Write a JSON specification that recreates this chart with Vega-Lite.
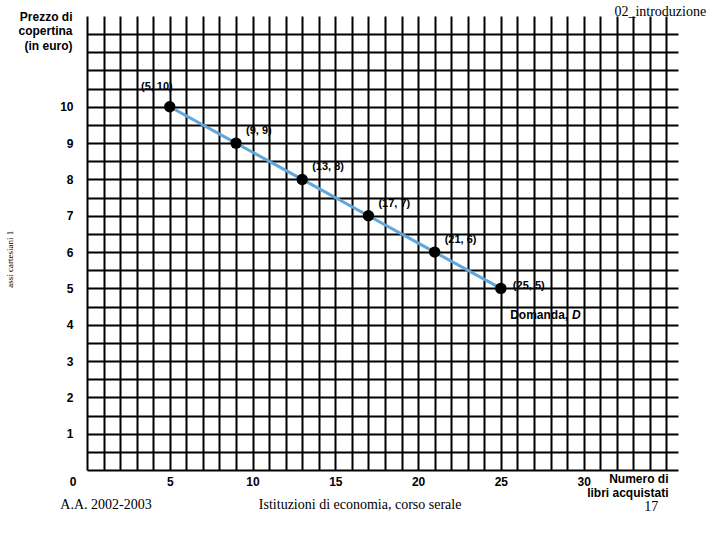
{
  "$schema": "https://vega.github.io/schema/vega-lite/v6.json",
  "width": 591,
  "height": 454,
  "autosize": "none",
  "padding": {"left": 87, "top": 16, "right": 42, "bottom": 70},
  "background": "white",
  "config": {"view": {"stroke": null}},
  "datasets": {
    "punti": [
      {"libri": 5, "prezzo": 10, "label": "(5, 10)", "pos": "first"},
      {"libri": 9, "prezzo": 9, "label": "(9, 9)", "pos": "mid"},
      {"libri": 13, "prezzo": 8, "label": "(13, 8)", "pos": "mid"},
      {"libri": 17, "prezzo": 7, "label": "(17, 7)", "pos": "mid"},
      {"libri": 21, "prezzo": 6, "label": "(21, 6)", "pos": "mid"},
      {"libri": 25, "prezzo": 5, "label": "(25, 5)", "pos": "last"}
    ],
    "note": [
      {"nome": "domanda", "t": "Domanda,"},
      {"nome": "D", "t": "D"},
      {"nome": "zero", "t": "0"},
      {"nome": "aa", "t": "A.A. 2002-2003"},
      {"nome": "ist", "t": "Istituzioni di economia, corso serale"},
      {"nome": "pag", "t": "17"},
      {"nome": "intro", "t": "02_introduzione"},
      {"nome": "assi", "t": "assi cartesiani 1"}
    ]
  },
  "resolve": {"axis": {"x": "independent", "y": "independent"}},
  "layer": [
    {
      "data": {"name": "punti"},
      "encoding": {
        "x": {
          "field": "libri", "type": "quantitative",
          "scale": {"domain": [0, 35.7], "nice": false, "zero": false},
          "axis": {
            "values": [0,1,2,3,4,5,6,7,8,9,10,11,12,13,14,15,16,17,18,19,20,21,22,23,24,25,26,27,28,29,30,31,32,33,34,35],
            "labelExpr": "datum.value > 0 && datum.value <= 30 && datum.value % 5 == 0 ? format(datum.value, 'd') : ''",
            "grid": true, "gridColor": "black", "gridWidth": 2, "gridOpacity": 1,
            "domain": false, "ticks": false,
            "labelFont": "Liberation Sans", "labelFontWeight": "bold", "labelFontSize": 12, "labelColor": "black",
            "labelPadding": 6, "labelFlush": false, "labelOverlap": false,
            "title": ["Numero di", "libri acquistati"],
            "titleFont": "Liberation Sans", "titleFontWeight": "bold", "titleFontSize": 12, "titleColor": "black",
            "titleAlign": "right", "titleBaseline": "top", "titleAnchor": "start", "titleX": 581, "titleY": 3, "titleLineHeight": 14
          }
        },
        "y": {
          "field": "prezzo", "type": "quantitative",
          "scale": {"domain": [0, 12.5], "nice": false, "zero": false},
          "axis": {
            "values": [0,0.5,1,1.5,2,2.5,3,3.5,4,4.5,5,5.5,6,6.5,7,7.5,8,8.5,9,9.5,10,10.5,11,11.5,12],
            "labelExpr": "datum.value >= 1 && datum.value <= 10 && datum.value % 1 == 0 ? format(datum.value, 'd') : ''",
            "grid": true, "gridColor": "black", "gridWidth": 2, "gridOpacity": 1,
            "domain": false, "ticks": false,
            "labelFont": "Liberation Sans", "labelFontWeight": "bold", "labelFontSize": 12, "labelColor": "black",
            "labelPadding": 14, "labelOverlap": false,
            "title": ["Prezzo di", "copertina", "(in euro)"],
            "titleFont": "Liberation Sans", "titleFontWeight": "bold", "titleFontSize": 12, "titleColor": "black",
            "titleAngle": 0, "titleAlign": "right", "titleBaseline": "top", "titleAnchor": "start",
            "titleX": -15, "titleY": -5, "titleLineHeight": 14.5
          }
        }
      },
      "layer": [
        {"mark": {"type": "line", "color": "#63a6d9", "strokeWidth": 3}},
        {"mark": {"type": "circle", "color": "black", "opacity": 1, "size": 130}},
        {
          "transform": [{"filter": "datum.pos == 'mid'"}],
          "mark": {"type": "text", "align": "left", "baseline": "middle", "dx": 10, "dy": -12, "font": "Liberation Sans", "fontWeight": "bold", "fontSize": 11, "color": "black"},
          "encoding": {"text": {"field": "label"}}
        },
        {
          "transform": [{"filter": "datum.pos == 'first'"}],
          "mark": {"type": "text", "align": "right", "baseline": "middle", "dx": 3, "dy": -20, "font": "Liberation Sans", "fontWeight": "bold", "fontSize": 11, "color": "black"},
          "encoding": {"text": {"field": "label"}}
        },
        {
          "transform": [{"filter": "datum.pos == 'last'"}],
          "mark": {"type": "text", "align": "left", "baseline": "middle", "dx": 12, "dy": -2, "font": "Liberation Sans", "fontWeight": "bold", "fontSize": 11, "color": "black"},
          "encoding": {"text": {"field": "label"}}
        }
      ]
    },
    {
      "data": {"name": "note"},
      "transform": [{"filter": "datum.nome == 'domanda'"}],
      "mark": {"type": "text", "align": "left", "baseline": "middle", "font": "Liberation Sans", "fontWeight": "bold", "fontSize": 12, "color": "black"},
      "encoding": {"x": {"datum": 25.56, "type": "quantitative", "axis": null}, "y": {"datum": 4.27, "type": "quantitative", "axis": null}, "text": {"field": "t"}}
    },
    {
      "data": {"name": "note"},
      "transform": [{"filter": "datum.nome == 'D'"}],
      "mark": {"type": "text", "align": "left", "baseline": "middle", "font": "Liberation Sans", "fontWeight": "bold", "fontStyle": "italic", "fontSize": 12, "color": "black"},
      "encoding": {"x": {"datum": 29.3, "type": "quantitative", "axis": null}, "y": {"datum": 4.27, "type": "quantitative", "axis": null}, "text": {"field": "t"}}
    },
    {
      "data": {"name": "note"},
      "transform": [{"filter": "datum.nome == 'zero'"}],
      "mark": {"type": "text", "align": "center", "baseline": "middle", "dx": -14, "dy": 12, "font": "Liberation Sans", "fontWeight": "bold", "fontSize": 12, "color": "black"},
      "encoding": {"x": {"datum": 0, "type": "quantitative", "axis": null}, "y": {"datum": 0, "type": "quantitative", "axis": null}, "text": {"field": "t"}}
    },
    {
      "data": {"name": "note"},
      "transform": [{"filter": "datum.nome == 'aa'"}],
      "mark": {"type": "text", "align": "center", "baseline": "middle", "font": "Liberation Serif", "fontSize": 14, "color": "black"},
      "encoding": {"x": {"datum": 1.15, "type": "quantitative", "axis": null}, "y": {"datum": -0.96, "type": "quantitative", "axis": null}, "text": {"field": "t"}}
    },
    {
      "data": {"name": "note"},
      "transform": [{"filter": "datum.nome == 'ist'"}],
      "mark": {"type": "text", "align": "center", "baseline": "middle", "font": "Liberation Serif", "fontSize": 14, "color": "black"},
      "encoding": {"x": {"datum": 16.5, "type": "quantitative", "axis": null}, "y": {"datum": -0.96, "type": "quantitative", "axis": null}, "text": {"field": "t"}}
    },
    {
      "data": {"name": "note"},
      "transform": [{"filter": "datum.nome == 'pag'"}],
      "mark": {"type": "text", "align": "right", "baseline": "middle", "font": "Liberation Serif", "fontSize": 14, "color": "black"},
      "encoding": {"x": {"datum": 34.5, "type": "quantitative", "axis": null}, "y": {"datum": -1.02, "type": "quantitative", "axis": null}, "text": {"field": "t"}}
    },
    {
      "data": {"name": "note"},
      "transform": [{"filter": "datum.nome == 'intro'"}],
      "mark": {"type": "text", "align": "right", "baseline": "middle", "font": "Liberation Serif", "fontSize": 14, "color": "black"},
      "encoding": {"x": {"datum": 37.4, "type": "quantitative", "axis": null}, "y": {"datum": 12.62, "type": "quantitative", "axis": null}, "text": {"field": "t"}}
    },
    {
      "data": {"name": "note"},
      "transform": [{"filter": "datum.nome == 'assi'"}],
      "mark": {"type": "text", "align": "center", "baseline": "middle", "angle": 270, "font": "Liberation Serif", "fontSize": 9, "color": "black"},
      "encoding": {"x": {"datum": -4.65, "type": "quantitative", "axis": null}, "y": {"datum": 5.8, "type": "quantitative", "axis": null}, "text": {"field": "t"}}
    }
  ]
}
